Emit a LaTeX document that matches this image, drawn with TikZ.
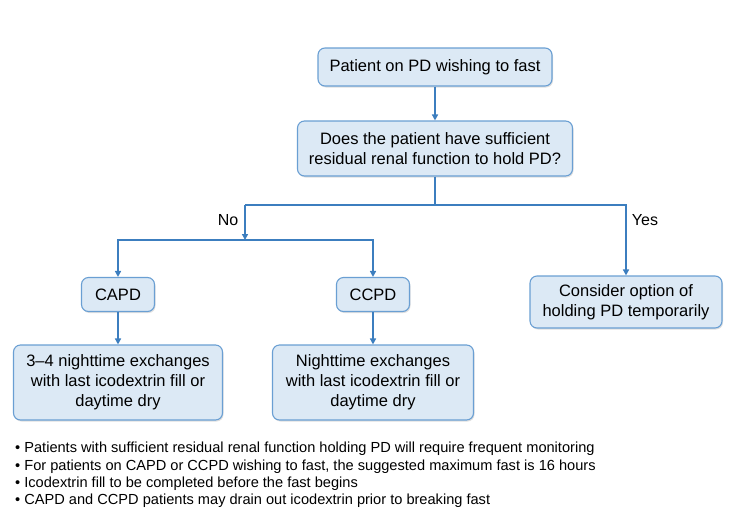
\documentclass[tikz,border=0pt]{standalone}
\usepackage{fontspec}
\setmainfont{Liberation Sans}
\usetikzlibrary{arrows.meta,shadows}
\definecolor{boxfill}{HTML}{DCE9F5}
\definecolor{boxline}{HTML}{6A9FD3}
\definecolor{arrowc}{HTML}{3C7EBF}
\begin{document}
\begin{tikzpicture}[x=1pt,y=-1pt,
  box/.style={draw=boxline,fill=boxfill,line width=1.1pt,rounded corners=7pt,
    align=center,font=\fontsize{16.5}{20}\selectfont,inner sep=0pt,
    drop shadow={shadow xshift=1pt,shadow yshift=-1.5pt,opacity=0.25}},
  conn/.style={draw=arrowc,line width=1.6pt},
  arr/.style={conn,-{Triangle[length=6pt,width=6pt]}},
  lbl/.style={font=\fontsize{16}{19}\selectfont},
  bul/.style={font=\fontsize{14.6}{17.3}\selectfont,align=left,anchor=north west,inner sep=0pt}]
\useasboundingbox (0,0) rectangle (735,525);
\node[box,minimum width=234pt,minimum height=38pt] (start) at (435,67) {Patient on PD wishing to fast};
\node[box,minimum width=275pt,minimum height=55pt] (q) at (435,148.5) {Does the patient have sufficient\\residual renal function to hold PD?};
\node[box,minimum width=73pt,minimum height=34pt] (capd) at (118,294.5) {CAPD};
\node[box,minimum width=73pt,minimum height=34pt] (ccpd) at (373,294.5) {CCPD};
\node[box,minimum width=192pt,minimum height=52pt] (hold) at (626,302) {Consider option of\\holding PD temporarily};
\node[box,minimum width=209pt,minimum height=75pt] (capdr) at (118,382.5) {3–4 nighttime exchanges\\with last icodextrin fill or\\daytime dry};
\node[box,minimum width=201pt,minimum height=75pt] (ccpdr) at (373,382.5) {Nighttime exchanges\\with last icodextrin fill or\\daytime dry};
\coordinate (split) at (435,205);
\coordinate (nob) at (245,205);
\coordinate (nosplit) at (245,240);
\draw[arr] (start) -- (q);
\draw[conn] (q) -- (split);
\draw[conn] (split) -- (nob);
\draw[arr] (nob) -- (nosplit);
\draw[arr] (split) -| (hold);
\draw[arr] (nosplit) -| (capd);
\draw[arr] (nosplit) -| (ccpd);
\draw[arr] (capd) -- (capdr);
\draw[arr] (ccpd) -- (ccpdr);
\node[lbl] (no) at (228,220) {No};
\node[lbl] (yes) at (645,220) {Yes};
\node[bul] (notes) at (15,442) {• Patients with sufficient residual renal function holding PD will require frequent monitoring\\
• For patients on CAPD or CCPD wishing to fast, the suggested maximum fast is 16 hours\\
• Icodextrin fill to be completed before the fast begins\\
• CAPD and CCPD patients may drain out icodextrin prior to breaking fast};
\end{tikzpicture}
\end{document}
